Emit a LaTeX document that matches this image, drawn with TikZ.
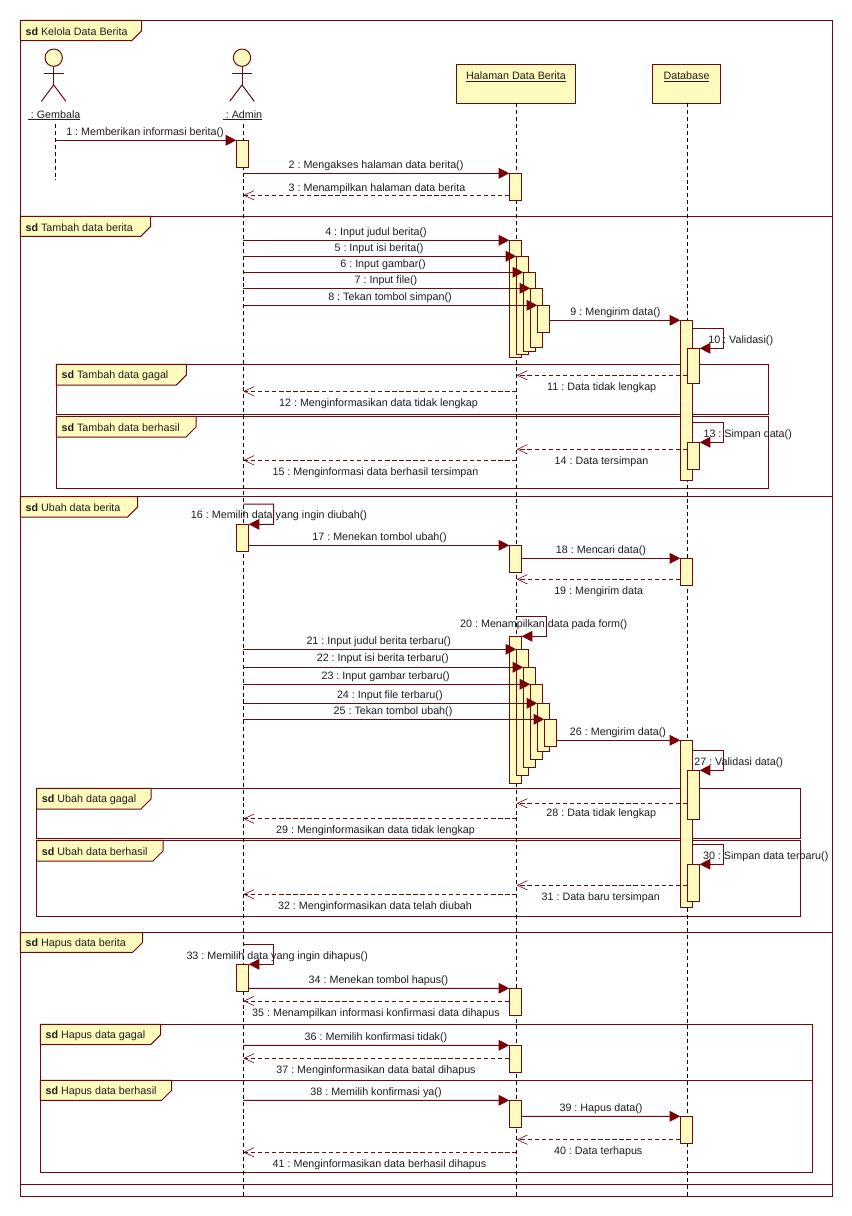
\documentclass[tikz,border=0pt]{standalone}
\usepackage{fontspec}
\setmainfont{Liberation Sans}
\frenchspacing
\usetikzlibrary{arrows.meta}
\definecolor{umlline}{HTML}{6B0A0F}
\definecolor{umlfill}{HTML}{FFFBBE}
\definecolor{umltip}{HTML}{7A0008}
\definecolor{umltext}{HTML}{1E1E1E}
\tikzset{
  umlshape/.style={draw=umlline,line width=0.75pt},
  lab/.style={inner sep=0pt,text=umltext,font=\fontsize{8.05pt}{10pt}\selectfont,anchor=center,yshift=-1.1pt},
  tabtext/.style={inner sep=0pt,text=umltext,font=\fontsize{8.05pt}{10pt}\selectfont,anchor=west,yshift=-0.8pt},
  barbox/.style={umlshape,fill=umlfill,inner sep=0pt,outer sep=0pt},
  headbox/.style={umlshape,fill=umlfill,inner xsep=0pt,inner ysep=0pt,outer sep=0pt,text=umltext,
    font=\fontsize{8.05pt}{10pt}\selectfont,text height=11.6pt,text depth=17.65pt},
  lifeline/.style={draw=black,line width=0.7pt,dash pattern=on 3pt off 2.2pt},
  syncmsg/.style={draw=umlline,line width=0.75pt,-{Triangle[length=8pt,width=8pt,color=umltip]}},
  retmsg/.style={draw=umlline,line width=0.65pt,dash pattern=on 3.3pt off 2pt,
     -{Straight Barb[length=7.5pt,width=7pt,color=umlline,line width=0.45pt]}},
}
\newcommand\ultext[1]{\vtop{\hbox{#1}\kern0.6pt\hrule height 0.6pt}}
% \actbar{name}{x1}{x2}{y1}{y2}
\newcommand\actbar[5]{%
  \pgfmathsetmacro\bx{(#2+#3)/2}\pgfmathsetmacro\by{(#4+#5)/2}%
  \pgfmathsetmacro\bw{(#3-#2)*0.75}\pgfmathsetmacro\bh{(#5-#4)*0.75}%
  \node[barbox,minimum width=\bw pt,minimum height=\bh pt] (#1) at (\bx,\by) {};}
% \umlframe{name}{x1}{y1}{x2}{y2}
\newcommand\umlframe[5]{\draw[umlshape] (#2,#3) rectangle (#4,#5);}
% \sdtab{name}{x1}{y1}{x2}{y2}{title}
\newcommand\sdtab[6]{%
  \pgfmathsetmacro\tm{#5-10}\pgfmathsetmacro\tn{#4-10}\pgfmathsetmacro\tc{(#3+#5)/2+0.3}\pgfmathsetmacro\tx{#2+5}%
  \draw[umlshape,fill=umlfill] (#2,#3) -- (#4,#3) -- (#4,\tm) -- (\tn,#5) -- (#2,#5) -- cycle;
  \node[tabtext] (#1) at (\tx,\tc) {\textbf{sd} #6};}
% \mlab{n}{x}{y}{text}
\newcommand\mlab[4]{\node[lab] (lab#1) at (#2,#3) {#4};}
% \actor{name}{x}
\newcommand\umlactor[2]{%
  \node[umlshape,fill=umlfill,circle,minimum size=13pt,inner sep=0pt,outer sep=0pt] (#1) at (#2,57.7) {};
  \draw[umlshape] (#1.south) -- (#2,85);
  \draw[umlshape] ([xshift=-7.4pt,yshift=-5.3pt]#1.south) -- ([xshift=7.4pt,yshift=-5.3pt]#1.south);
  \draw[umlshape] ([xshift=-9.2pt]#2,101.3) -- (#2,85) -- ([xshift=9.2pt]#2,101.3);}
\begin{document}
\begin{tikzpicture}[x=0.75pt,y=-0.75pt]
\useasboundingbox[fill=white] (0,0) rectangle (852,1216);
% outer frame and fragments
\umlframe{outer}{20.3}{20.3}{832.7}{1196.3}
\draw[umlshape] (20.3,216.5) -- (832.7,216.5);
\draw[umlshape] (20.3,496.5) -- (832.7,496.5);
\draw[umlshape] (20.3,932.7) -- (832.7,932.7);
\draw[umlshape] (20.3,1184.3) -- (832.7,1184.3);
\umlframe{f1}{56.3}{364.3}{768.3}{414.3}
\umlframe{f2}{56.3}{416.3}{768.3}{488.3}
\umlframe{f3}{36.7}{788.3}{800.7}{838.7}
\umlframe{f4}{36.7}{840.3}{800.7}{916.3}
\umlframe{f5}{40.3}{1024.3}{812.7}{1080.3}
\umlframe{f6}{40.3}{1080.3}{812.7}{1172.3}
\sdtab{t0}{20.3}{20.3}{141.7}{40.7}{Kelola Data Berita}
\sdtab{t1}{20.3}{216.5}{150.7}{236.5}{Tambah data berita}
\sdtab{t2}{20.3}{496.5}{137.7}{517}{Ubah data berita}
\sdtab{t3}{20.3}{932.7}{142.7}{952.3}{Hapus data berita}
\sdtab{t4}{56.3}{364.3}{186.3}{385}{Tambah data gagal}
\sdtab{t5}{56.3}{416.3}{196}{437}{Tambah data berhasil}
\sdtab{t6}{36.7}{788.3}{151}{809}{Ubah data gagal}
\sdtab{t7}{36.7}{840.3}{163}{861}{Ubah data berhasil}
\sdtab{t8}{40.3}{1024.3}{160.7}{1044.7}{Hapus data gagal}
\sdtab{t9}{40.3}{1080.3}{171.7}{1100.3}{Hapus data berhasil}
% heads
\umlactor{gemhead}{53.7}
\umlactor{admhead}{242}
\node[lab,anchor=base] (gem) at (54.2,116.6) {\ultext{\ : Gembala}};
\node[lab,anchor=base] (adm) at (242.5,116.6) {\ultext{\ : Admin}};
\node[headbox,minimum width=89.55pt] (hal) at (516,83.8) {\ultext{Halaman Data Berita}};
\node[headbox,minimum width=51.3pt] (db) at (686.5,83.8) {\ultext{Database}};
% lifelines
\coordinate (gemx) at (55.3,0);
\coordinate (admx) at (243.4,0);
\coordinate (halx) at (516.7,0);
\coordinate (dbx) at (687.3,0);
\coordinate (gemend) at (55.3,180);
\coordinate (admend) at (243.4,1196);
\coordinate (halend) at (516.7,1196);
\coordinate (dbend) at (687.3,1196);
\draw[lifeline] (gemx |- 0,124) -- (gemend);
\draw[lifeline] (admx |- 0,124) -- (admend);
\draw[lifeline] (hal.south -| halx) -- (halend);
\draw[lifeline] (db.south -| dbx) -- (dbend);
% activations
\actbar{a1}{236.3}{248.7}{140.3}{167.3}
\actbar{h1}{509.3}{521.7}{173.3}{200.3}
\actbar{h2}{509.3}{521.7}{240.3}{357.3}
\actbar{h3}{516.3}{528.7}{256.3}{354.3}
\actbar{h4}{523.3}{535.7}{272.3}{351.3}
\actbar{h5}{530.3}{542.7}{288.3}{347.3}
\actbar{h6}{537.3}{549.7}{305.3}{332.3}
\actbar{d1}{680.3}{692.7}{320.3}{480.3}
\actbar{d2}{687.3}{699.7}{348.3}{383.3}
\actbar{d3}{687.3}{699.7}{442.3}{469.3}
\actbar{a2}{236.3}{248.7}{524.3}{551.7}
\actbar{h7}{509.3}{521.7}{545.3}{572.3}
\actbar{d4}{680.3}{692.7}{558.3}{585.3}
\actbar{h8}{509.3}{521.7}{636.3}{783.3}
\actbar{h9}{516.3}{528.7}{649.3}{775.3}
\actbar{h10}{523.3}{535.7}{667.3}{767}
\actbar{h11}{530.3}{542.7}{684.3}{759.3}
\actbar{h12}{537.3}{549.7}{703.3}{751.3}
\actbar{h13}{544.3}{556.7}{719.3}{746.3}
\actbar{d5}{680.3}{692.7}{740.3}{907}
\actbar{d6}{687.3}{699.7}{770.3}{819.3}
\actbar{d7}{687.3}{699.7}{864.3}{901.3}
\actbar{a3}{236.3}{248.7}{964.3}{991.3}
\actbar{h14}{509.3}{521.7}{988.3}{1015.7}
\actbar{h15}{509.3}{521.7}{1045.3}{1072.7}
\actbar{h16}{509.3}{521.7}{1100.3}{1127.7}
\actbar{d8}{680.3}{692.7}{1116.3}{1143.7}
% messages
\draw[syncmsg] (gemx |- 0,140.3) -- (a1.north west);
\draw[syncmsg] (admx |- 0,173.3) -- (h1.north west);
\draw[retmsg] (h1.west |- 0,195.3) -- (admx |- 0,195.3);
\draw[syncmsg] (admx |- 0,240.3) -- (h2.north west);
\draw[syncmsg] (admx |- 0,256.3) -- (h3.north west);
\draw[syncmsg] (admx |- 0,272.3) -- (h4.north west);
\draw[syncmsg] (admx |- 0,288.3) -- (h5.north west);
\draw[syncmsg] (admx |- 0,305.3) -- (h6.north west);
\draw[syncmsg] (h6.east |- 0,320.3) -- (d1.north west);
\draw[syncmsg] (d1.east |- 0,328.3) -| (723.7,348.3) -- (d2.north east);
\draw[retmsg] (d2.west |- 0,375.3) -- (halx |- 0,375.3);
\draw[retmsg] (halx |- 0,391.3) -- (admx |- 0,391.3);
\draw[syncmsg] (d1.east |- 0,422.3) -| (723.7,442.3) -- (d3.north east);
\draw[retmsg] (d3.west |- 0,449.3) -- (halx |- 0,449.3);
\draw[retmsg] (halx |- 0,460.3) -- (admx |- 0,460.3);
\draw[syncmsg] (admx |- 0,504) -| (273.7,524.3) -- (a2.north east);
\draw[syncmsg] (a2.east |- 0,545.3) -- (h7.north west);
\draw[syncmsg] (h7.east |- 0,558.3) -- (d4.north west);
\draw[retmsg] (d4.west |- 0,579.3) -- (halx |- 0,579.3);
\draw[syncmsg] (halx |- 0,616.3) -| (546.3,636.3) -- (h8.north east);
\draw[syncmsg] (admx |- 0,649.3) -- (h9.north west);
\draw[syncmsg] (admx |- 0,667.3) -- (h10.north west);
\draw[syncmsg] (admx |- 0,684.3) -- (h11.north west);
\draw[syncmsg] (admx |- 0,703.3) -- (h12.north west);
\draw[syncmsg] (admx |- 0,719.3) -- (h13.north west);
\draw[syncmsg] (h13.east |- 0,740.3) -- (d5.north west);
\draw[syncmsg] (d5.east |- 0,750.3) -| (723.7,770.3) -- (d6.north east);
\draw[retmsg] (d6.west |- 0,803.3) -- (halx |- 0,803.3);
\draw[retmsg] (halx |- 0,818.7) -- (admx |- 0,818.7);
\draw[syncmsg] (d5.east |- 0,844.7) -| (723.7,864.3) -- (d7.north east);
\draw[retmsg] (d7.west |- 0,885.3) -- (halx |- 0,885.3);
\draw[retmsg] (halx |- 0,894.3) -- (admx |- 0,894.3);
\draw[syncmsg] (admx |- 0,944.3) -| (273.7,964.3) -- (a3.north east);
\draw[syncmsg] (a3.east |- 0,988.3) -- (h14.north west);
\draw[retmsg] (h14.west |- 0,1001) -- (admx |- 0,1001);
\draw[syncmsg] (admx |- 0,1045.3) -- (h15.north west);
\draw[retmsg] (h15.west |- 0,1058.3) -- (admx |- 0,1058.3);
\draw[syncmsg] (admx |- 0,1100.3) -- (h16.north west);
\draw[syncmsg] (h16.east |- 0,1116.3) -- (d8.north west);
\draw[retmsg] (d8.west |- 0,1139.7) -- (halx |- 0,1139.7);
\draw[retmsg] (halx |- 0,1152.3) -- (admx |- 0,1152.3);
% labels
\mlab{1}{145}{131}{1 : Memberikan informasi berita()}
\mlab{2}{376}{164}{2 : Mengakses halaman data berita()}
\mlab{3}{377}{187}{3 : Menampilkan halaman data berita}
\mlab{4}{376}{231}{4 : Input judul berita()}
\mlab{5}{379}{247}{5 : Input isi berita()}
\mlab{6}{383}{263}{6 : Input gambar()}
\mlab{7}{386}{279}{7 : Input file()}
\mlab{8}{390}{296}{8 : Tekan tombol simpan()}
\mlab{9}{615.5}{311}{9 : Mengirim data()}
\mlab{10}{740.7}{339}{10 : Validasi()}
\mlab{11}{601.7}{386}{11 : Data tidak lengkap}
\mlab{12}{378.5}{402}{12 : Menginformasikan data tidak lengkap}
\mlab{13}{747.7}{433}{13 : Simpan data()}
\mlab{14}{601.5}{460}{14 : Data tersimpan}
\mlab{15}{375.5}{471}{15 : Menginformasi data berhasil tersimpan}
\mlab{16}{279}{514}{16 : Memilih data yang ingin diubah()}
\mlab{17}{379.5}{536}{17 : Menekan tombol ubah()}
\mlab{18}{601}{549}{18 : Mencari data()}
\mlab{19}{598.7}{590}{19 : Mengirim data}
\mlab{20}{543.7}{623}{20 : Menampilkan data pada form()}
\mlab{21}{378.7}{640}{21 : Input judul berita terbaru()}
\mlab{22}{382.7}{657.7}{22 : Input isi berita terbaru()}
\mlab{23}{385.7}{675}{23 : Input gambar terbaru()}
\mlab{24}{389.8}{694}{24 : Input file terbaru()}
\mlab{25}{393}{710}{25 : Tekan tombol ubah()}
\mlab{26}{618}{731}{26 : Mengirim data()}
\mlab{27}{738.7}{761}{27 : Validasi data()}
\mlab{28}{601.3}{812}{28 : Data tidak lengkap}
\mlab{29}{375.5}{829}{29 : Menginformasikan data tidak lengkap}
\mlab{30}{765.7}{855}{30 : Simpan data terbaru()}
\mlab{31}{600.7}{896}{31 : Data baru tersimpan}
\mlab{32}{375}{905}{32 : Menginformasikan data telah diubah}
\mlab{33}{277.2}{955}{33 : Memilih data yang ingin dihapus()}
\mlab{34}{378.5}{979}{34 : Menekan tombol hapus()}
\mlab{35}{376}{1012}{35 : Menampilkan informasi konfirmasi data dihapus}
\mlab{36}{376}{1036}{36 : Memilih konfirmasi tidak()}
\mlab{37}{376}{1069}{37 : Menginformasikan data batal dihapus}
\mlab{38}{376}{1091}{38 : Memilih konfirmasi ya()}
\mlab{39}{601}{1107}{39 : Hapus data()}
\mlab{40}{598.2}{1150}{40 : Data terhapus}
\mlab{41}{379.5}{1163}{41 : Menginformasikan data berhasil dihapus}
\end{tikzpicture}
\end{document}
